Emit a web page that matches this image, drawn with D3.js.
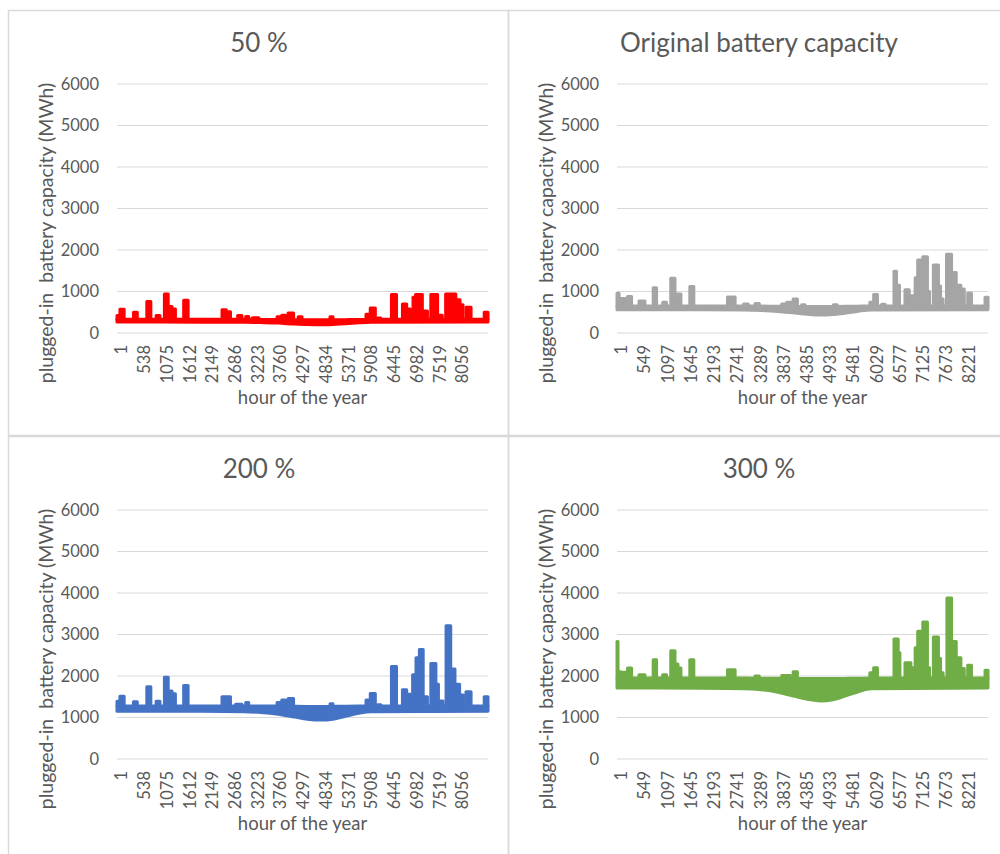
<!DOCTYPE html>
<html>
<head>
<meta charset="utf-8">
<script src="https://cdn.jsdelivr.net/npm/d3@7"></script>
<style>
  body { margin: 0; background: #fff; }
  text { font-family: Lato, "Open Sans", sans-serif; fill: #595959; }
</style>
</head>
<body>
<div id="chart"></div>
<script>
// tick labels
const yTicks = [0, 1000, 2000, 3000, 4000, 5000, 6000];
const xTicksA = [1, 538, 1075, 1612, 2149, 2686, 3223, 3760, 4297, 4834, 5371, 5908, 6445, 6982, 7519, 8056];
const xTicksB = [1, 549, 1097, 1645, 2193, 2741, 3289, 3837, 4385, 4933, 5481, 6029, 6577, 7125, 7673, 8221];

// daily min / max envelope of each series, read at a few hours
const bandHours = [1, 2000, 3000, 3400, 3800, 4200, 4500, 4800, 5100, 5400, 5700, 6000, 8760];
const band50Low = [265, 262, 258, 250, 238, 215, 202, 196, 204, 220, 245, 260, 265];
const band50High = [330, 330, 330, 328, 325, 322, 320, 320, 320, 322, 326, 330, 330];
const bandOrigLow = [560, 558, 555, 545, 520, 480, 450, 432, 445, 480, 525, 555, 560];
const bandOrigHigh = [650, 650, 650, 648, 645, 640, 638, 636, 638, 642, 646, 650, 650];
const band200Low = [1150, 1148, 1140, 1120, 1080, 1010, 960, 940, 960, 1030, 1100, 1140, 1150];
const band200High = [1280, 1280, 1280, 1278, 1275, 1270, 1268, 1266, 1268, 1272, 1276, 1280, 1280];
const band300Low = [1710, 1705, 1695, 1670, 1610, 1510, 1440, 1400, 1430, 1520, 1620, 1690, 1710];
const band300High = [1950, 1950, 1950, 1948, 1945, 1942, 1940, 1940, 1940, 1942, 1946, 1950, 1950];

// peaks above the band: [first hour, last hour, peak MWh]
const spikes50 = [
  [1, 60, 420], [70, 170, 570], [390, 480, 500], [705, 800, 760], [925, 1015, 420],
  [1120, 1210, 940], [1215, 1300, 640], [1300, 1380, 580], [1575, 1680, 790],
  [2480, 2580, 560], [2580, 2680, 510], [2850, 2950, 420], [3040, 3110, 400],
  [3200, 3350, 370], [3780, 3870, 390], [3890, 3980, 430], [4040, 4170, 480],
  [4280, 4370, 390], [5030, 5100, 390], [5880, 5960, 450], [5980, 6100, 600],
  [6150, 6230, 360], [6480, 6600, 930], [6740, 6840, 700], [6840, 6930, 580],
  [6990, 7040, 860], [7050, 7130, 930], [7140, 7210, 930], [7220, 7330, 530],
  [7410, 7570, 930], [7580, 7680, 430], [7760, 8000, 940], [8000, 8100, 800],
  [8100, 8170, 680], [8240, 8360, 620], [8670, 8760, 500]
];
const spikesOrig = [
  [1, 50, 960], [60, 200, 830], [250, 345, 880], [520, 660, 770], [855, 935, 1090],
  [1080, 1170, 740], [1270, 1370, 1320], [1370, 1510, 940], [1720, 1815, 1120],
  [2610, 2790, 870], [2990, 3100, 700], [3260, 3360, 710], [3890, 4000, 700],
  [4010, 4120, 740], [4160, 4260, 820], [4360, 4440, 680], [5110, 5200, 680],
  [5970, 6050, 740], [6060, 6150, 930], [6250, 6330, 690], [6540, 6600, 1490],
  [6600, 6670, 1150], [6800, 6900, 1040], [6920, 7040, 900], [7040, 7100, 1330],
  [7100, 7180, 1760], [7180, 7220, 1400], [7220, 7330, 1840], [7330, 7380, 1000],
  [7470, 7590, 1640], [7590, 7640, 1130], [7640, 7700, 820], [7780, 7900, 1900],
  [7900, 8010, 1460], [8010, 8120, 1150], [8120, 8200, 1060], [8280, 8370, 960],
  [8690, 8760, 860]
];
const spikes200 = [
  [1, 60, 1390], [70, 170, 1510], [390, 480, 1380], [705, 800, 1740], [925, 1015, 1390],
  [1120, 1210, 1970], [1215, 1300, 1640], [1300, 1380, 1570], [1575, 1680, 1770],
  [2480, 2680, 1500], [2800, 2950, 1320], [3040, 3110, 1360], [3780, 3870, 1360],
  [3890, 3980, 1420], [4040, 4170, 1460], [5030, 5100, 1330], [5880, 5960, 1420],
  [5980, 6100, 1580], [6150, 6230, 1310], [6480, 6600, 2230], [6740, 6840, 1670],
  [6840, 6930, 1560], [6980, 7060, 2030], [7060, 7130, 2440], [7140, 7230, 2640],
  [7230, 7330, 1500], [7410, 7530, 2300], [7530, 7590, 1800], [7590, 7700, 1400],
  [7770, 7880, 3210], [7890, 7980, 2170], [7980, 8090, 1800], [8090, 8180, 1540],
  [8240, 8360, 1620], [8670, 8760, 1500]
];
const spikes300 = [
  [1, 25, 2830], [25, 80, 2100], [80, 200, 2090], [250, 345, 2190], [520, 660, 2030],
  [855, 935, 2390], [1080, 1170, 2030], [1270, 1370, 2610], [1370, 1440, 2290],
  [1440, 1510, 2190], [1720, 1815, 2390], [2610, 2790, 2150], [3260, 3360, 2000],
  [3890, 4100, 2010], [4160, 4260, 2100], [5970, 6060, 2080], [6060, 6150, 2200],
  [6540, 6640, 2890], [6640, 6680, 2560], [6800, 6940, 2320], [6940, 7040, 2200],
  [7040, 7100, 2680], [7100, 7180, 3080], [7220, 7330, 3300], [7330, 7380, 2200],
  [7470, 7590, 2940], [7590, 7640, 2420], [7640, 7700, 2080], [7790, 7900, 3880],
  [7900, 8010, 2830], [8010, 8120, 2440], [8120, 8200, 2180], [8280, 8370, 2260],
  [8690, 8760, 2140]
];

const panels = [
  { title: "50 %", color: "#ff0000", ticks: xTicksA, low: band50Low, high: band50High, spikes: spikes50, x: 8, y: 10 },
  { title: "Original battery capacity", color: "#a5a5a5", ticks: xTicksB, low: bandOrigLow, high: bandOrigHigh, spikes: spikesOrig, x: 508, y: 10 },
  { title: "200 %", color: "#4472c4", ticks: xTicksA, low: band200Low, high: band200High, spikes: spikes200, x: 8, y: 436 },
  { title: "300 %", color: "#70ad47", ticks: xTicksB, low: band300Low, high: band300High, spikes: spikes300, x: 508, y: 436 }
];

const svgWidth = 1000;
const svgHeight = 854;
const plot = { left: 109, right: 480, top: 74, bottom: 323 };

const svg = d3.select("#chart")
  .append("svg")
  .attr("width", svgWidth)
  .attr("height", svgHeight);

panels.forEach(function(p) {
  const g = svg.append("g")
    .attr("transform", "translate(" + p.x + "," + p.y + ")");

  g.append("rect")
    .attr("x", 0.5)
    .attr("y", 0.5)
    .attr("width", 500)
    .attr("height", 425)
    .attr("fill", "none")
    .attr("stroke", "#d9d9d9")
    .attr("stroke-width", 1.5);

  const x = d3.scaleLinear()
    .domain([1, 8760])
    .range([plot.left, plot.right]);

  const y = d3.scaleLinear()
    .domain([0, 6000])
    .range([plot.bottom, plot.top]);

  // gridlines
  g.selectAll(".grid")
    .data(yTicks)
    .enter()
    .append("line")
    .attr("x1", plot.left)
    .attr("x2", plot.right)
    .attr("y1", function(d) { return y(d); })
    .attr("y2", function(d) { return y(d); })
    .attr("stroke", "#d9d9d9")
    .attr("stroke-width", 1);

  // y axis labels
  const yAxis = g.append("g")
    .attr("transform", "translate(" + plot.left + ",0)")
    .call(d3.axisLeft(y).tickValues(yTicks).tickFormat(d3.format("d")).tickSize(0).tickPadding(18));
  yAxis.select(".domain").remove();
  yAxis.selectAll("text")
    .style("font-size", "16.5px")
    .style("font-family", "Lato, sans-serif")
    .attr("fill", "#595959");

  // x axis labels, rotated
  const xAxis = g.append("g")
    .attr("transform", "translate(0," + plot.bottom + ")")
    .call(d3.axisBottom(x).tickValues(p.ticks).tickFormat(d3.format("d")).tickSize(0));
  xAxis.select(".domain").remove();
  xAxis.selectAll("text")
    .attr("transform", "rotate(-90)")
    .attr("x", -12)
    .attr("y", 4)
    .attr("dy", "0.35em")
    .style("text-anchor", "end")
    .style("font-size", "16.5px")
    .style("font-family", "Lato, sans-serif")
    .attr("fill", "#595959");

  // series: band of daily values plus the peaks
  const bandData = bandHours.map(function(h, i) {
    return { h: h, lo: p.low[i], hi: p.high[i] };
  });
  const band = d3.area()
    .x(function(d) { return x(d.h); })
    .y0(function(d) { return y(d.lo); })
    .y1(function(d) { return y(d.hi); })
    .curve(d3.curveMonotoneX);

  g.append("path")
    .datum(bandData)
    .attr("d", band)
    .attr("fill", p.color)
    .attr("stroke", p.color)
    .attr("stroke-width", 3)
    .attr("stroke-linejoin", "round");

  const base = d3.max(p.high);
  const spike = d3.area()
    .x(function(d) { return x(d); })
    .y0(y(base));

  g.selectAll(".spike")
    .data(p.spikes)
    .enter()
    .append("path")
    .attr("d", function(s) {
      return spike.y1(y(s[2]))([s[0], s[1]]);
    })
    .attr("fill", p.color)
    .attr("stroke", p.color)
    .attr("stroke-width", 3)
    .attr("stroke-linejoin", "round");

  // titles
  g.append("text")
    .attr("x", 251)
    .attr("y", 42)
    .style("text-anchor", "middle")
    .style("font-size", "26px")
    .text(p.title);

  g.append("text")
    .attr("x", (plot.left + plot.right) / 2)
    .attr("y", 394)
    .style("text-anchor", "middle")
    .style("font-size", "18.5px")
    .text("hour of the year");

  g.append("text")
    .attr("transform", "translate(45,223) rotate(-90)")
    .style("text-anchor", "middle")
    .style("font-size", "19.5px")
    .style("white-space", "pre")
    .text("plugged-in  battery capacity (MWh)");
});
</script>
</body>
</html>
